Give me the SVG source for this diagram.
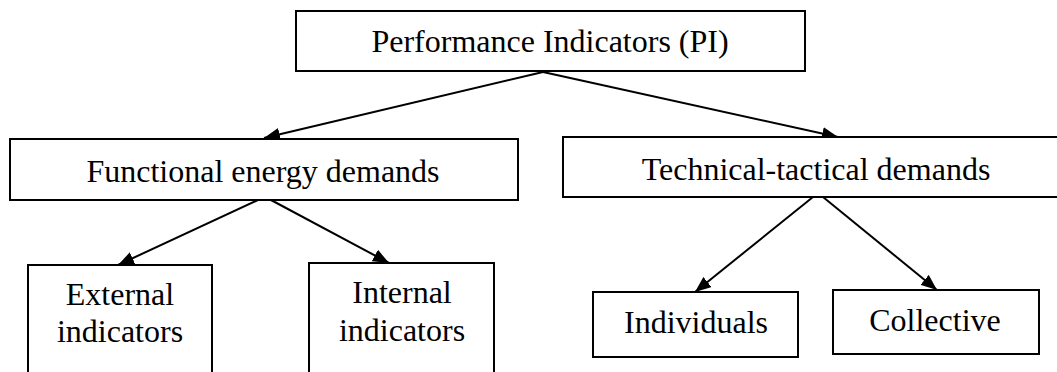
<svg xmlns="http://www.w3.org/2000/svg" width="1057" height="372" viewBox="0 0 1057 372">
<style>
.box{fill:#fff;stroke:#000;stroke-width:2}
.t{font-family:'Liberation Serif','Times New Roman',serif;font-size:32px;fill:#000;text-anchor:middle}
.c{stroke:#000;stroke-width:2;fill:none;marker-end:url(#ah)}
</style>
<defs>
<marker id="ah" markerUnits="userSpaceOnUse" markerWidth="16" markerHeight="13" refX="16" refY="6.5" orient="auto">
<path d="M0,0 L16,6.5 L0,13 z" fill="#000"/>
</marker>
</defs>
<rect width="1057" height="372" fill="#fff"/>
<g id="connectors">
<line class="c" x1="543" y1="72" x2="264" y2="138"/>
<line class="c" x1="543" y1="72" x2="838" y2="137"/>
<line class="c" x1="258" y1="200" x2="118" y2="265"/>
<line class="c" x1="271" y1="200" x2="389" y2="263"/>
<line class="c" x1="813" y1="197" x2="695" y2="292"/>
<line class="c" x1="823" y1="197" x2="937" y2="290"/>
</g>
<g id="pi">
<rect class="box" x="296" y="11" width="509" height="60"/>
<text class="t" x="550" y="52">Performance Indicators (PI)</text>
</g>
<g id="functional">
<rect class="box" x="10" y="139" width="508" height="61"/>
<text class="t" x="263" y="182">Functional energy demands</text>
</g>
<g id="technical">
<rect class="box" x="563" y="137" width="506" height="60"/>
<text class="t" x="816" y="180">Technical-tactical demands</text>
</g>
<g id="external">
<rect class="box" x="28" y="265" width="184" height="120"/>
<text class="t" x="120" y="305">External</text>
<text class="t" x="120" y="342">indicators</text>
</g>
<g id="internal">
<rect class="box" x="309" y="263" width="185" height="120"/>
<text class="t" x="402" y="303">Internal</text>
<text class="t" x="402" y="341">indicators</text>
</g>
<g id="individuals">
<rect class="box" x="593" y="292" width="205" height="65"/>
<text class="t" x="696" y="333">Individuals</text>
</g>
<g id="collective">
<rect class="box" x="833" y="290" width="206" height="64"/>
<text class="t" x="935" y="331">Collective</text>
</g>
</svg>
